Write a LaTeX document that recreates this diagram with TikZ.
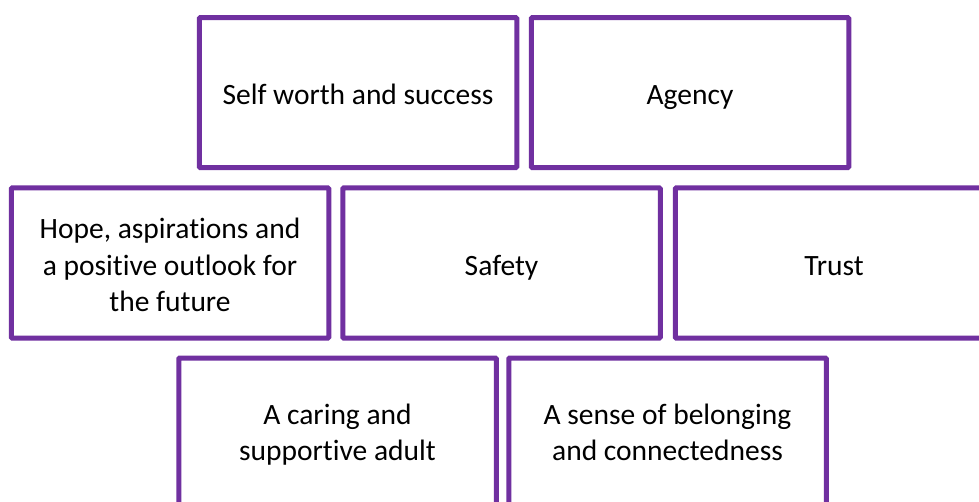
\documentclass[tikz,border=0pt]{standalone}
\usepackage{fontspec}
\setmainfont{Carlito}[Ligatures=NoCommon]
\definecolor{boxpurple}{HTML}{7030A0}
\newcommand{\toprule}{\rule{0pt}{35.5pt}}
\newcommand{\lowrule}{\rule{0pt}{29.5pt}}
\begin{document}
\begin{tikzpicture}[x=1pt,y=-1pt,
  card/.style={draw=boxpurple, line width=5pt, rounded corners=1pt, fill=white,
    minimum width=317.5pt, minimum height=150pt, inner sep=0pt, align=center,
    font=\fontsize{29.5pt}{36.5pt}\selectfont, text=black,
    execute at begin node={\toprule}, execute at end node=\strut}]
\useasboundingbox (0,0) rectangle (979,502);
\node[card] (self) at (358,92.7) {Self worth and success};
\node[card] (agency) at (690,92.7) {Agency};
\node[card] (hope) at (170,263) {\toprule Hope, aspirations and\\a positive outlook for\\the future};
\node[card] (safety) at (501.5,263) {Safety};
\node[card] (trust) at (834,263) {Trust};
\node[card] (adult) at (337.5,433) {\lowrule A caring and\\supportive adult};
\node[card] (belong) at (667.5,433) {\lowrule A sense of belonging\\and connectedness};
\end{tikzpicture}
\end{document}
